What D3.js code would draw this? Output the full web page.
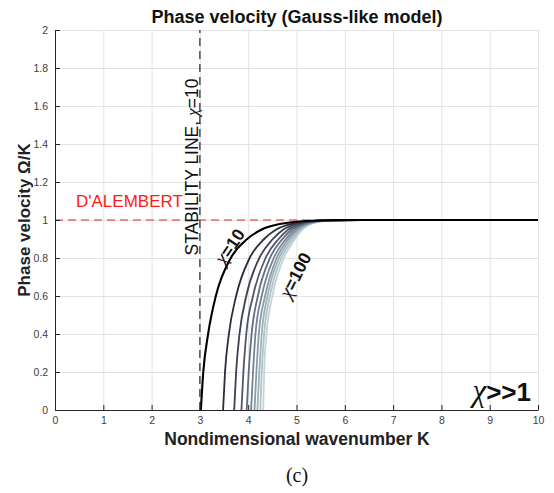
<!DOCTYPE html>
<html lang="en">
<head>
    <meta charset="UTF-8">
    <title>Phase velocity (Gauss-like model)</title>
    <script src="https://d3js.org/d3.v7.min.js"></script>
    <style>
        body { margin: 0; background: #fff; }
        svg { font-family: "Liberation Sans", Arial, sans-serif; }
        .grid line { stroke: #e3e3e3; stroke-width: 1px; }
        .grid path { display: none; }
        .axis path, .axis line { stroke: #262626; }
        .axis text { fill: #404040; font-size: 10.5px; }
        .chi { font-family: "Liberation Serif", "DejaVu Serif", serif; font-style: italic; font-weight: normal; }
    </style>
</head>
<body>
<svg id="chart" width="554" height="493"></svg>
<script>
    // chi values of the family of curves
    const chiValues = [10, 20, 30, 40, 50, 60, 70, 80, 90, 100];

    const vLevels = [0, 0.2, 0.4, 0.6, 0.8, 0.9, 0.95, 0.98, 0.995, 1];

    // K read for each curve at each velocity level (one row per chi)
    const kAtLevels = [
        [3.02, 3.07, 3.17, 3.33, 3.64, 3.98, 4.28, 4.68, 5.20, 5.90],
        [3.48, 3.52, 3.60, 3.75, 4.03, 4.33, 4.58, 4.90, 5.34, 6.08],
        [3.71, 3.75, 3.82, 3.96, 4.23, 4.51, 4.73, 5.01, 5.41, 6.16],
        [3.86, 3.90, 3.96, 4.10, 4.36, 4.63, 4.83, 5.09, 5.46, 6.22],
        [3.97, 4.01, 4.07, 4.20, 4.45, 4.71, 4.90, 5.14, 5.49, 6.27],
        [4.06, 4.10, 4.15, 4.28, 4.53, 4.78, 4.96, 5.18, 5.52, 6.30],
        [4.13, 4.17, 4.22, 4.35, 4.59, 4.83, 5.01, 5.22, 5.54, 6.33],
        [4.19, 4.23, 4.28, 4.40, 4.64, 4.88, 5.05, 5.25, 5.56, 6.36],
        [4.25, 4.28, 4.33, 4.45, 4.69, 4.93, 5.09, 5.28, 5.58, 6.38],
        [4.31, 4.33, 4.38, 4.50, 4.74, 4.97, 5.12, 5.30, 5.60, 6.40]
    ];

    const xTicks = [0, 1, 2, 3, 4, 5, 6, 7, 8, 9, 10];
    const yTicks = [0, 0.2, 0.4, 0.6, 0.8, 1, 1.2, 1.4, 1.6, 1.8, 2];
    const yTickLabels = ["0", "0.2", "0.4", "0.6", "0.8", "1", "1.2", "1.4", "1.6", "1.8", "2"];

    const kMax = 10;
    const dAlembert = 1;
    const stabilityK = 3;

    const margin = { top: 30, right: 16, bottom: 83, left: 55 };
    const width = 554 - margin.left - margin.right;
    const height = 493 - margin.top - margin.bottom;

    const svg = d3.select("#chart");
    const g = svg.append("g").attr("transform", `translate(${margin.left},${margin.top})`);

    const x = d3.scaleLinear().domain([0, 10]).range([0, width]);
    const y = d3.scaleLinear().domain([0, 2]).range([height, 0]);

    // grid
    g.append("g").attr("class", "grid")
        .attr("transform", `translate(0,${height})`)
        .call(d3.axisBottom(x).tickValues(xTicks).tickSize(-height).tickFormat(""));
    g.append("g").attr("class", "grid")
        .call(d3.axisLeft(y).tickValues(yTicks).tickSize(-width).tickFormat(""));

    // d'Alembert line
    g.append("line")
        .attr("x1", x(0)).attr("x2", x(kMax))
        .attr("y1", y(dAlembert)).attr("y2", y(dAlembert))
        .attr("stroke", "#e8261f").attr("stroke-width", 1.2)
        .attr("stroke-dasharray", "8,5");

    // stability line
    g.append("line")
        .attr("x1", x(stabilityK)).attr("x2", x(stabilityK))
        .attr("y1", y(0)).attr("y2", y(2))
        .attr("stroke", "#111").attr("stroke-width", 1.1)
        .attr("stroke-dasharray", "8,5");

    // bone-like colormap
    const bone = d3.interpolateRgbBasis(["#000000", "#515171", "#a6c6c6", "#ffffff"]);
    const color = i => i === 0 ? "#000" : bone(0.1 + i * 0.075);

    const line = d3.line()
        .x(d => x(d[0]))
        .y(d => y(d[1]))
        .curve(d3.curveMonotoneX);

    const series = chiValues.map((chi, i) => {
        const pts = kAtLevels[i].map((k, j) => [k, vLevels[j]]);
        pts.push([kMax, 1]);
        return { chi, i, pts };
    });

    g.append("g").selectAll("path")
        .data(series.slice().reverse())
        .join("path")
        .attr("d", d => line(d.pts))
        .attr("fill", "none")
        .attr("stroke", d => color(d.i))
        .attr("stroke-width", d => d.i === 0 ? 2.1 : 1.8);

    // axes
    g.append("g").attr("class", "axis")
        .attr("transform", `translate(0,${height})`)
        .call(d3.axisBottom(x).tickValues(xTicks).tickSizeInner(-5).tickSizeOuter(0).tickPadding(7));
    g.append("g").attr("class", "axis")
        .call(d3.axisLeft(y).tickValues(yTicks).tickFormat((d, i) => yTickLabels[i])
            .tickSizeInner(-5).tickSizeOuter(0).tickPadding(7));

    // titles
    svg.append("text")
        .attr("x", 297).attr("y", 23)
        .attr("text-anchor", "middle")
        .attr("font-size", 18).attr("font-weight", "bold").attr("fill", "#111")
        .text("Phase velocity (Gauss-like model)");

    svg.append("text")
        .attr("x", 297).attr("y", 445)
        .attr("text-anchor", "middle")
        .attr("font-size", 17.5).attr("font-weight", "bold").attr("fill", "#222")
        .text("Nondimensional wavenumber K");

    svg.append("text")
        .attr("transform", "translate(30,220) rotate(-90)")
        .attr("text-anchor", "middle")
        .attr("font-size", 17).attr("font-weight", "bold").attr("fill", "#222")
        .text("Phase velocity \u03A9/K");

    svg.append("text")
        .attr("x", 297).attr("y", 482)
        .attr("text-anchor", "middle")
        .attr("font-family", "'Liberation Serif', 'DejaVu Serif', serif")
        .attr("font-size", 20).attr("fill", "#111")
        .text("(c)");

    // annotations
    svg.append("text")
        .attr("x", 76).attr("y", 207)
        .attr("font-size", 17).attr("fill", "#ff1a1a")
        .text("D'ALEMBERT");

    const stab = svg.append("text")
        .attr("transform", "translate(198,167) rotate(-90)")
        .attr("text-anchor", "middle")
        .attr("font-size", 17.5).attr("fill", "#111");
    stab.append("tspan").text("STABILITY LINE, ");
    stab.append("tspan").attr("class", "chi").text("\u03C7");
    stab.append("tspan").text("=10");

    const lab10 = svg.append("text")
        .attr("transform", "translate(235,250) rotate(-56)")
        .attr("text-anchor", "middle")
        .attr("font-size", 17.5).attr("font-weight", "bold").attr("fill", "#111");
    lab10.append("tspan").attr("class", "chi").attr("font-size", 20).text("\u03C7");
    lab10.append("tspan").text("=10");

    const lab100 = svg.append("text")
        .attr("transform", "translate(301,278) rotate(-63)")
        .attr("text-anchor", "middle")
        .attr("font-size", 17.5).attr("font-weight", "bold").attr("fill", "#111");
    lab100.append("tspan").attr("class", "chi").attr("font-size", 20).text("\u03C7");
    lab100.append("tspan").text("=100");

    const big = svg.append("text")
        .attr("x", 531).attr("y", 401)
        .attr("text-anchor", "end")
        .attr("font-size", 26).attr("font-weight", "bold").attr("fill", "#111");
    big.append("tspan").attr("class", "chi").attr("font-size", 31).text("\u03C7");
    big.append("tspan").text(">>1");
</script>
</body>
</html>
